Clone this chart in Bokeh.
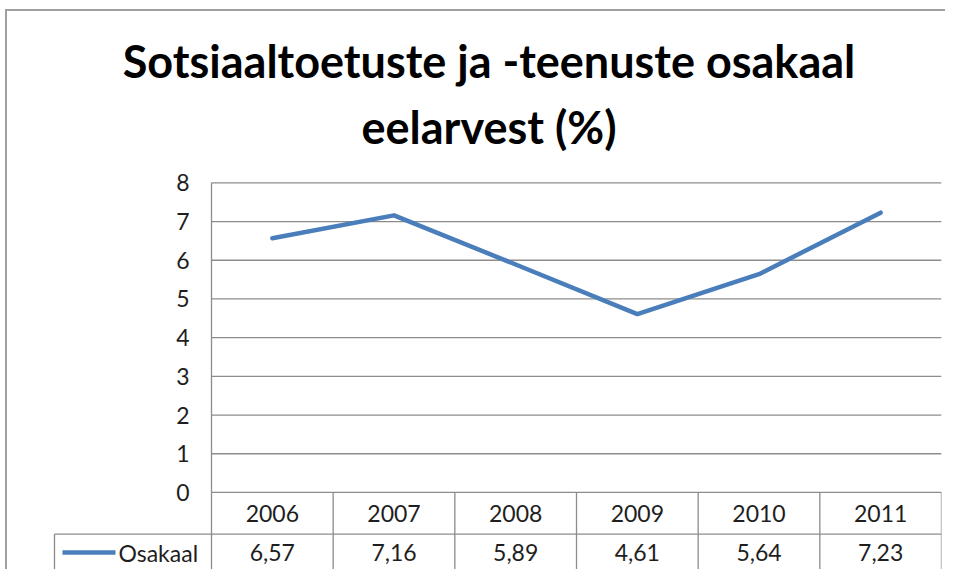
from bokeh.plotting import figure
from bokeh.models import Range1d, Title, ColumnDataSource
from bokeh.core.properties import value
from bokeh.embed import file_html
from bokeh.resources import INLINE

# ---- data ----
years = ["2006", "2007", "2008", "2009", "2010", "2011"]
osakaal = [6.57, 7.16, 5.89, 4.61, 5.64, 7.23]
series_name = "Osakaal"
y_ticks = [0, 1, 2, 3, 4, 5, 6, 7, 8]
title_line1 = "Sotsiaaltoetuste ja -teenuste osakaal"
title_line2 = "eelarvest (%)"

# ---- layout constants (pixels) ----
W, H = 940, 560
ORG_X, ORG_Y = 7, 11            # where figure content starts on the page
FRAME_L, FRAME_R = 36 - ORG_X, 941 - ORG_X
AXIS_X, TABLE_L = 211, 54       # page positions of axis line and table left edge
UNIT_Y = 38.7                   # px per y unit
n = len(years)
col_px = (941 - AXIS_X) / n
x_end = n - 0.5
x_start = x_end - (FRAME_R - FRAME_L) / col_px
y_end = max(y_ticks) + 0.5
FRAME_T = round(491.7 - y_end * UNIT_Y - ORG_Y)
FRAME_B = H
y_start = y_end - (FRAME_B - FRAME_T) / UNIT_Y

FONT = "Lato"
TXT = "#1e1e1e"
GRID = "#8c8c8c"
BLUE = "#4a7ebb"
FS = "23px"

p = figure(width=W, height=H, output_backend="svg", toolbar_location=None,
           x_range=Range1d(x_start, x_end), y_range=Range1d(y_start, y_end),
           x_axis_type=None, y_axis_type=None,
           min_border_left=FRAME_L, min_border_right=W - FRAME_R,
           min_border_top=FRAME_T, min_border_bottom=H - FRAME_B)
p.grid.visible = False
p.outline_line_color = None
p.background_fill_color = "white"
p.border_fill_color = "white"
p.styles = {"border-top": "2px solid #a0a0a0", "border-left": "2px solid #a0a0a0",
            "margin-left": "5px", "margin-top": "9px"}

# title (two lines)
t2 = Title(text=title_line2, align="center", text_font=FONT, text_font_size="45px",
           text_font_style="bold", text_color="black", standoff=20)
t1 = Title(text=title_line1, align="center", text_font=FONT, text_font_size="45px",
           text_font_style="bold", text_color="black", standoff=0)
p.add_layout(t2, "above")
p.add_layout(t1, "above")

xs = list(range(n))
left_edge, right_edge = -0.5, n - 0.5
top_tick = max(y_ticks)
legend_left = left_edge - (AXIS_X - TABLE_L) / col_px
row_mid = -1.075
row_bot = -2.03

# horizontal gridlines (1..max)
grid_y = [t for t in y_ticks if t > 0]
p.segment(x0=[left_edge] * len(grid_y), x1=[right_edge] * len(grid_y),
          y0=grid_y, y1=grid_y, line_color=GRID, line_width=1.3)

# y tick labels
p.text(x=[left_edge] * len(y_ticks), y=y_ticks, text=[str(t) for t in y_ticks],
       text_font=value(FONT), text_font_size=FS, text_color=TXT,
       text_align="right", text_baseline="middle", x_offset=-22)

# table lines
p.segment(x0=[left_edge, legend_left, legend_left], x1=[right_edge] * 3,
          y0=[0, row_mid, row_bot], y1=[0, row_mid, row_bot],
          line_color=GRID, line_width=1.3)
vx = [left_edge + i for i in range(n + 1)]
p.segment(x0=vx, x1=vx, y0=[row_bot] * len(vx), y1=[0] * len(vx),
          line_color=GRID, line_width=1.3)
# y-axis line
p.segment(x0=[left_edge], x1=[left_edge], y0=[0], y1=[top_tick],
          line_color=GRID, line_width=1.3)
# legend cell left border
p.segment(x0=[legend_left], x1=[legend_left], y0=[row_bot], y1=[row_mid],
          line_color=GRID, line_width=1.3)

# table text
p.text(x=xs, y=[row_mid / 2] * n, text=years, text_font=value(FONT), text_font_size=FS,
       text_color=TXT, text_align="center", text_baseline="middle")
labels = [f"{v:.2f}".replace(".", ",") for v in osakaal]
val_mid = (row_mid + row_bot) / 2
p.text(x=xs, y=[val_mid] * n, text=labels, text_font=value(FONT), text_font_size=FS,
       text_color=TXT, text_align="center", text_baseline="middle")

# legend key in table
key_x0 = legend_left + 8 / col_px
key_x1 = legend_left + 61 / col_px
p.line(x=[key_x0, key_x1], y=[val_mid, val_mid], line_color=BLUE, line_width=4.5)
p.text(x=[key_x1], y=[val_mid], text=[series_name], text_font=value(FONT),
       text_font_size=FS, text_color=TXT, text_align="left",
       text_baseline="middle", x_offset=3)

# data line
src = ColumnDataSource(dict(x=xs, y=osakaal))
p.line("x", "y", source=src, line_color=BLUE, line_width=4.5,
       line_join="round", line_cap="round")

open("out.html", "w").write(file_html(p, INLINE))
